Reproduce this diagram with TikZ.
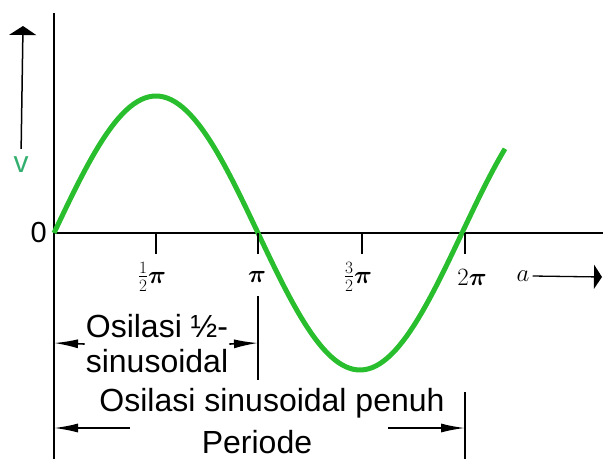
\documentclass[tikz,border=0pt]{standalone}
\usepackage{amsmath}
\usepackage{fontspec}
\setmainfont{Liberation Sans}
\usetikzlibrary{arrows.meta,positioning}

\definecolor{sinegreen}{RGB}{40,190,45}
\definecolor{vgreen}{RGB}{50,175,110}

\tikzset{
  axisline/.style={line width=1.5pt},
  tickmark/.style={line width=2pt},
  ticklabel/.style={font=\fontsize{27}{30}\selectfont, inner sep=0pt},
  dimline/.style={line width=1.3pt},
  dimarrow/.style={line width=1.6pt, -{Latex[length=24pt,width=9pt]}},
  dimtext/.style={font=\fontsize{32}{35}\selectfont, align=center, inner sep=1pt},
}

\begin{document}
\begin{tikzpicture}[x=1pt,y=-1pt]
    \useasboundingbox (0,0) rectangle (603,459);
    % Sumbu
    \coordinate (o) at (54,233);
    \coordinate (top) at (54,13);
    \coordinate (bot) at (54,459);
    \coordinate (xend) at (603,233);
    \draw[axisline] (top) -- (bot);
    \draw[axisline] (o) -- (xend);
    \node[font=\fontsize{29}{30}\selectfont, anchor=east, inner sep=0pt] (zero) at (47,233) {0};
    % Tegangan v
    \coordinate (vtip) at (23,26);
    \node[font=\fontsize{30}{30}\selectfont, text=vgreen, inner sep=0pt] (vlab) at (21,165) {v};
    \draw[axisline, -{Triangle[length=9pt,width=27pt]}, shorten <=8pt] (vlab.north) -- (vtip);
    % Gelombang sinus
    \draw[sinegreen, line width=5pt, domain=54:505, samples=120]
        plot (\x, {233-137*sin((\x-54)/408*360)});
    % Tanda skala
    \foreach \n/\xx in {1/156,2/258,3/362,4/465} {
        \coordinate (t\n) at (\xx,233);
        \draw[tickmark] (t\n) -- ++(0,21);
    }
    \node[ticklabel] (l1) at (152,277) {$\tfrac{1}{2}\boldsymbol{\pi}$};
    \node[ticklabel] (l2) at (257,277) {$\boldsymbol{\pi}$};
    \node[ticklabel] (l3) at (358,277) {$\tfrac{3}{2}\boldsymbol{\pi}$};
    \node[ticklabel] (l4) at (472,277) {$2\boldsymbol{\pi}$};
    % Sudut a
    \node[ticklabel] (alab) at (523,276) {$a$};
    \coordinate (aend) at (602,277);
    \draw[dimline, -{Triangle[length=8pt,width=24pt]}] (alab.east) ++(3,0) -- (aend);
    % Setengah osilasi
    \coordinate (h1) at (258,296);
    \coordinate (h2) at (258,380);
    \draw[dimline] (h1) -- (h2);
    \node[dimtext] (half) at (157,344) {Osilasi ½-\\sinusoidal};
    \coordinate (hl) at (54,343);
    \coordinate (hr) at (258,343);
    \draw[dimarrow] (half.west) -- (hl);
    \draw[dimarrow] (half.east) -- (hr);
    % Satu periode penuh
    \coordinate (f1) at (465,392);
    \coordinate (f2) at (465,459);
    \draw[dimline] (f1) -- (f2);
    \node[dimtext] (full) at (272,403) {Osilasi sinusoidal penuh};
    \node[dimtext] (period) at (257,442) {Periode};
    \coordinate (fl0) at (130,428);
    \coordinate (fl) at (54,428);
    \coordinate (fr0) at (388,428);
    \coordinate (fr) at (465,428);
    \draw[dimarrow] (fl0) -- (fl);
    \draw[dimarrow] (fr0) -- (fr);
\end{tikzpicture}
\end{document}
